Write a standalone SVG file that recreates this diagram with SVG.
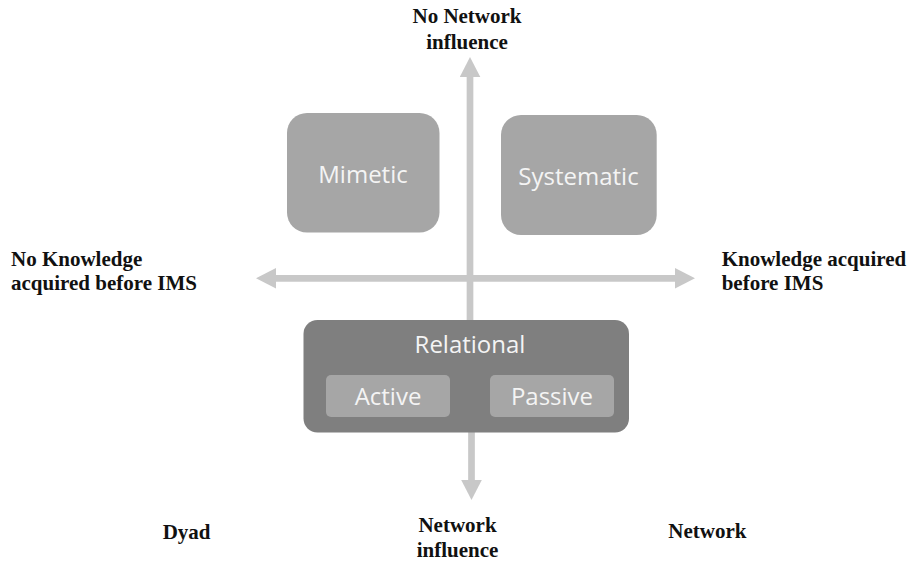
<svg xmlns="http://www.w3.org/2000/svg" width="916" height="561" viewBox="0 0 916 561">
  <style>
    .axis { stroke: #c8c8c8; stroke-width: 6.7; fill: none; }
    .lbl { font-family: "Liberation Serif", "Times New Roman", serif; font-weight: bold; font-size: 21px; fill: #111; }
    .box { fill: #a6a6a6; }
    .dark { fill: #7f7f7f; }
    .btxt { font-family: "Open Sans", "Noto Sans", sans-serif; font-size: 24px; fill: #f4f4f4; text-anchor: middle; }
  </style>
  <defs>
    <marker id="head" markerUnits="userSpaceOnUse" markerWidth="20" markerHeight="21" refX="0" refY="10.3" orient="auto-start-reverse" viewBox="0 0 20 20.6">
      <path d="M0,0 L20,10.3 L0,20.6 z" fill="#c8c8c8"/>
    </marker>
  </defs>
  <rect width="916" height="561" fill="#ffffff"/>

  <g id="connectors">
    <path class="axis" d="M276,278.3 L675,278.3" marker-start="url(#head)" marker-end="url(#head)"/>
    <path class="axis" d="M470,330 L470,77" marker-end="url(#head)"/>
    <path class="axis" d="M471.5,420 L471.5,480" marker-end="url(#head)"/>
  </g>

  <g id="mimetic">
    <rect class="box" x="287" y="113" width="152.5" height="119.5" rx="20"/>
    <text class="btxt" x="363" y="182.7">Mimetic</text>
  </g>
  <g id="systematic">
    <rect class="box" x="501" y="115" width="155.7" height="120" rx="20"/>
    <text class="btxt" x="578.5" y="185">Systematic</text>
  </g>
  <g id="relational">
    <rect class="dark" x="303.5" y="320" width="325.5" height="112.5" rx="14"/>
    <text class="btxt" x="470" y="353.3">Relational</text>
  </g>
  <g id="active">
    <rect class="box" x="326" y="375" width="124" height="42" rx="5"/>
    <text class="btxt" x="388" y="405">Active</text>
  </g>
  <g id="passive">
    <rect class="box" x="490" y="375" width="124" height="42" rx="5"/>
    <text class="btxt" x="552" y="405">Passive</text>
  </g>

  <g id="label-top">
    <text class="lbl" text-anchor="middle"><tspan x="467" y="22.7">No Network</tspan><tspan x="467" y="49.3">influence</tspan></text>
  </g>
  <g id="label-left">
    <text class="lbl"><tspan x="11" y="265.5">No Knowledge</tspan><tspan x="11" y="290">acquired before IMS</tspan></text>
  </g>
  <g id="label-right">
    <text class="lbl"><tspan x="721.7" y="266">Knowledge acquired</tspan><tspan x="721.7" y="290">before IMS</tspan></text>
  </g>
  <g id="label-dyad">
    <text class="lbl" x="162.7" y="539">Dyad</text>
  </g>
  <g id="label-bottom">
    <text class="lbl" text-anchor="middle"><tspan x="457.5" y="531.5">Network</tspan><tspan x="457.5" y="557">influence</tspan></text>
  </g>
  <g id="label-network">
    <text class="lbl" x="668.3" y="538">Network</text>
  </g>
</svg>
